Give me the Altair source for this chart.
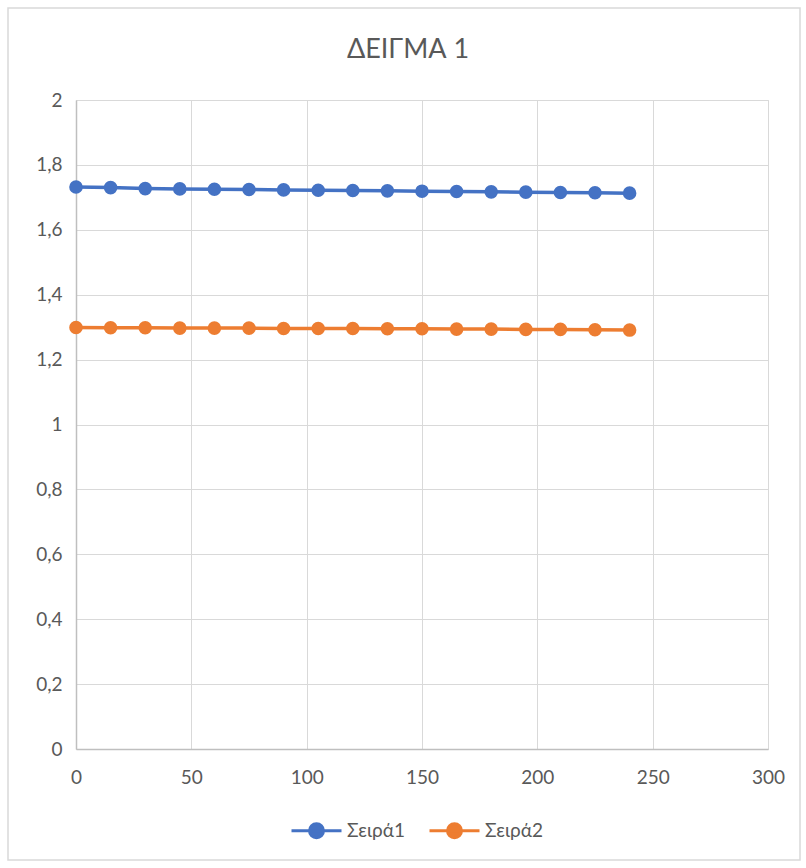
import altair as alt
import pandas as pd

x_vals = [0, 15, 30, 45, 60, 75, 90, 105, 120, 135, 150, 165, 180, 195, 210, 225, 240]
seira1 = [1.732, 1.730, 1.727, 1.726, 1.725, 1.724, 1.723, 1.722, 1.721, 1.720,
          1.719, 1.718, 1.717, 1.716, 1.715, 1.714, 1.713]
seira2 = [1.299, 1.298, 1.298, 1.297, 1.297, 1.297, 1.296, 1.296, 1.296, 1.295,
          1.295, 1.294, 1.294, 1.293, 1.293, 1.292, 1.291]
series_names = ["Σειρά1", "Σειρά2"]
colors = ["#4472C4", "#ED7D31"]
x_ticks = [0, 50, 100, 150, 200, 250, 300]
y_ticks = [0, 0.2, 0.4, 0.6, 0.8, 1, 1.2, 1.4, 1.6, 1.8, 2]

rows = []
for xv, a, b in zip(x_vals, seira1, seira2):
    rows.append({"x": xv, "y": a, "s": series_names[0]})
    rows.append({"x": xv, "y": b, "s": series_names[1]})
df = pd.DataFrame(rows)

FONT = "Lato"
GREY = "#595959"

xenc = alt.X("x:Q", scale=alt.Scale(domain=[0, 300], nice=False),
             axis=alt.Axis(values=x_ticks, title=None, grid=True, gridColor="#d9d9d9",
                           domain=True, domainColor="#bfbfbf", domainWidth=1.5, ticks=False,
                           labelFont=FONT, labelFontSize=19, labelColor=GREY, labelPadding=19,
                           labelFlush=False))
yenc = alt.Y("y:Q", scale=alt.Scale(domain=[0, 2], nice=False),
             axis=alt.Axis(values=y_ticks, title=None, grid=True, gridColor="#d9d9d9",
                           domain=True, domainColor="#bfbfbf", domainWidth=1.5, ticks=False,
                           labelFont=FONT, labelFontSize=19, labelColor=GREY, labelPadding=14,
                           labelExpr="replace(toString(datum.value), '.', ',')"))

stroke_scale = alt.Scale(domain=series_names, range=colors)
legend = alt.Legend(title=None, orient="none", legendX=214, legendY=704, direction="horizontal",
                    symbolType="M-1,0H1M-0.28,0A0.28,0.28,0,1,1,0.28,0A0.28,0.28,0,1,1,-0.28,0",
                    symbolSize=2500, symbolStrokeWidth=3, labelFont=FONT, labelFontSize=19,
                    labelColor=GREY, labelOffset=4, columnPadding=18)

base = alt.Chart(df)
lines = base.mark_line(strokeWidth=3.5).encode(
    x=xenc, y=yenc,
    stroke=alt.Stroke("s:N", scale=stroke_scale, legend=legend),
    detail="s:N",
)
points = base.mark_point(filled=True, size=185, opacity=1).encode(
    x="x:Q", y="y:Q",
    fill=alt.Fill("s:N", scale=stroke_scale, legend=legend),
)

border = alt.Chart(pd.DataFrame({"k": [0]})).mark_rect(
    fill=None, stroke="#d9d9d9", strokeWidth=1.5, clip=False
).encode(x=alt.value(-68), x2=alt.value(724), y=alt.value(-92), y2=alt.value(760))

chart = alt.layer(border, lines, points).properties(
    width=692, height=649,
    title=alt.TitleParams("ΔΕΙΓΜΑ 1", font=FONT, fontSize=27, fontWeight="normal",
                          color=GREY, anchor="middle", offset=-57, dx=-14),
    padding={"left": 76, "top": 100, "right": 38, "bottom": 119},
    autosize=alt.AutoSizeParams(type="none"),
).configure_view(stroke=None).configure(background="white")

chart.save("out.html", embed_options={"renderer": "svg", "actions": False})
